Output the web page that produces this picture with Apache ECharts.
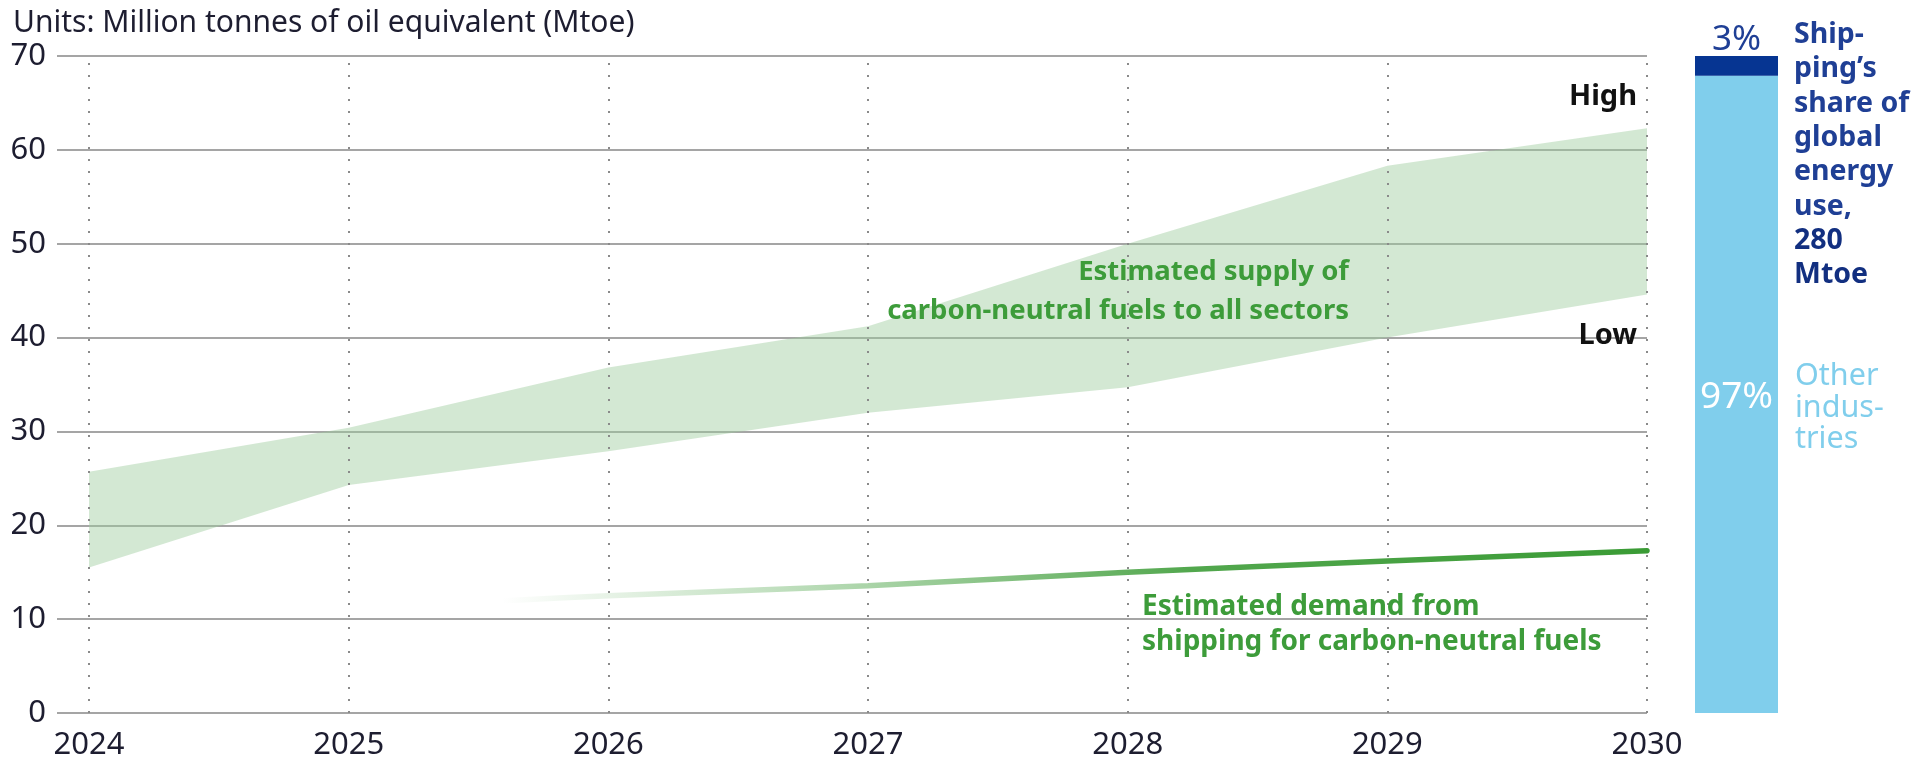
<!DOCTYPE html>
<html>
<head>
<meta charset="utf-8">
<script src="https://cdn.jsdelivr.net/npm/echarts@6/dist/echarts.min.js"></script>
<style>
  html, body { margin: 0; padding: 0; background: #ffffff; }
  #chart { width: 1911px; height: 763px; }
</style>
</head>
<body>
<div id="chart"></div>
<script>
// Years shown on the horizontal axis
const years = [2024, 2025, 2026, 2027, 2028, 2029, 2030];

// Estimated supply of carbon-neutral fuels to all sectors (Mtoe)
const supplyLow  = [15.5, 24.3, 27.9, 32.0, 34.7, 40.0, 44.6];
const supplyHigh = [25.7, 30.4, 36.8, 41.2, 50.0, 58.3, 62.3];

// Estimated demand from shipping for carbon-neutral fuels (Mtoe)
const demandYears  = [2025.6, 2026, 2027, 2028, 2029, 2030];
const demandValues = [11.95, 12.5, 13.55, 15.0, 16.2, 17.3];

// Shares of global energy use (%)
const otherShare = 97;
const shippingShare = 3;

const FONT = '"Noto Sans", "Open Sans", sans-serif';
const INK = '#1d1d30';
const GREEN_TEXT = '#3d9c3a';
const NAVY = '#1f3f95';

const chart = echarts.init(document.getElementById('chart'), null, { renderer: 'canvas' });

const demandGradient = new echarts.graphic.LinearGradient(0, 0, 1, 0, [
  { offset: 0.0,  color: 'rgba(58,155,53,0)' },
  { offset: 0.3,  color: 'rgba(58,155,53,0.4)' },
  { offset: 0.6,  color: 'rgba(58,155,53,0.88)' },
  { offset: 1.0,  color: 'rgba(58,155,53,1)' }
]);

// Supply range band: one polygon from the high edge and back along the low edge
function renderSupplyBand(params, api) {
  if (params.dataIndex !== 0) return null;
  const upper = years.map((y, i) => api.coord([y, supplyHigh[i]]));
  const lower = years.map((y, i) => api.coord([y, supplyLow[i]])).reverse();
  return {
    type: 'polygon',
    silent: true,
    shape: { points: upper.concat(lower) },
    style: { fill: 'rgba(157,204,157,0.45)' }
  };
}

const option = {
  backgroundColor: '#ffffff',
  animation: false,
  title: {
    text: 'Units: Million tonnes of oil equivalent (Mtoe)',
    left: 8,
    top: 3,
    textStyle: { fontFamily: FONT, fontSize: 30, fontWeight: 'normal', color: INK }
  },
  grid: [
    { left: 57, right: 264, top: 56, bottom: 50 },
    { left: 1695, width: 83, top: 56, bottom: 50 }
  ],
  xAxis: [
    {
      type: 'value',
      gridIndex: 0,
      min: 2024 - 32 / 259.3,
      max: 2030,
      axisLine: { show: false },
      axisTick: { show: false },
      splitLine: { show: false },
      axisLabel: {
        customValues: years,
        formatter: v => String(Math.round(v)),
        fontFamily: FONT,
        fontSize: 31,
        color: INK,
        margin: 17
      }
    },
    { type: 'category', gridIndex: 1, data: ['share'], show: false }
  ],
  yAxis: [
    {
      type: 'value',
      gridIndex: 0,
      min: 0,
      max: 70,
      interval: 10,
      axisLine: { show: false },
      axisTick: { show: false },
      axisLabel: { fontFamily: FONT, fontSize: 31, color: INK, margin: 11 },
      splitLine: { lineStyle: { color: '#a5a5a5', width: 2 } }
    },
    { type: 'value', gridIndex: 1, min: 0, max: 100, show: false }
  ],
  series: [
    {
      // invisible carrier for the dotted year lines
      name: 'Year lines',
      type: 'line',
      data: years.map((y, i) => [y, supplyLow[i]]),
      symbol: 'none',
      lineStyle: { opacity: 0 },
      silent: true,
      z: 1,
      markLine: {
        silent: true,
        symbol: ['none', 'none'],
        label: { show: false },
        lineStyle: { type: [2, 10], color: '#8a8a8a', width: 2 },
        data: years.map(y => ({ xAxis: y }))
      }
    },
    {
      name: 'Supply range',
      type: 'custom',
      data: years.map((y, i) => [y, supplyLow[i], supplyHigh[i]]),
      encode: { x: 0, y: [1, 2] },
      renderItem: renderSupplyBand,
      silent: true,
      z: 2
    },
    {
      name: 'Shipping demand',
      type: 'line',
      data: demandYears.map((y, i) => [y, demandValues[i]]),
      smooth: 0.3,
      symbol: 'none',
      lineStyle: { width: 5.5, color: demandGradient, cap: 'round' },
      silent: true,
      z: 3
    },
    {
      name: 'Other industries',
      type: 'bar',
      xAxisIndex: 1,
      yAxisIndex: 1,
      stack: 'share',
      barWidth: '100%',
      data: [otherShare],
      itemStyle: { color: '#80ceec' },
      label: {
        show: true,
        position: ['50%', 322],
        align: 'center',
        verticalAlign: 'middle',
        formatter: '{c}%',
        fontFamily: FONT,
        fontSize: 37,
        color: '#ffffff'
      },
      silent: true
    },
    {
      name: 'Shipping',
      type: 'bar',
      xAxisIndex: 1,
      yAxisIndex: 1,
      stack: 'share',
      barWidth: '100%',
      data: [shippingShare],
      itemStyle: { color: '#063592' },
      label: {
        show: true,
        position: 'top',
        distance: -2,
        formatter: '{c}%',
        fontFamily: FONT,
        fontSize: 35,
        color: NAVY
      },
      silent: true
    }
  ],
  graphic: [
    {
      type: 'text', silent: true, z: 100,
      style: { text: 'High', x: 1637, y: 97, align: 'right', verticalAlign: 'middle',
               fontFamily: FONT, fontSize: 29, fontWeight: 'bold', fill: '#111111' }
    },
    {
      type: 'text', silent: true, z: 100,
      style: { text: 'Low', x: 1637, y: 336, align: 'right', verticalAlign: 'middle',
               fontFamily: FONT, fontSize: 29, fontWeight: 'bold', fill: '#111111' }
    },
    {
      type: 'text', silent: true, z: 100,
      style: { text: 'Estimated supply of\ncarbon-neutral fuels to all sectors',
               x: 1349, y: 292, align: 'right', verticalAlign: 'middle', lineHeight: 39,
               fontFamily: FONT, fontSize: 27.5, fontWeight: 'bold', fill: GREEN_TEXT }
    },
    {
      type: 'text', silent: true, z: 100,
      style: { text: 'Estimated demand from\nshipping for carbon-neutral fuels',
               x: 1142, y: 625, align: 'left', verticalAlign: 'middle', lineHeight: 35,
               fontFamily: FONT, fontSize: 28, fontWeight: 'bold', fill: GREEN_TEXT }
    },
    {
      type: 'text', silent: true, z: 100,
      style: {
        text: ['{a|Ship-}', '{a|ping\u2019s}', '{a|share of}', '{a|global}', '{a|energy}', '{a|use,}', '{b|280}', '{b|Mtoe}'].join('\n'),
        x: 1794, y: 155, align: 'left', verticalAlign: 'middle',
        rich: {
          a: { fontFamily: FONT, fontSize: 28.5, fontWeight: 'bold', fill: NAVY, lineHeight: 34.3 },
          b: { fontFamily: FONT, fontSize: 28.5, fontWeight: 'bold', fill: '#122f80', lineHeight: 34.3 }
        }
      }
    },
    {
      type: 'text', silent: true, z: 100,
      style: { text: 'Other\nindus-\ntries', x: 1795, y: 408, align: 'left', verticalAlign: 'middle',
               lineHeight: 31.5, fontFamily: FONT, fontSize: 30.5, fill: '#80ceec' }
    }
  ]
};

chart.setOption(option);
</script>
</body>
</html>
